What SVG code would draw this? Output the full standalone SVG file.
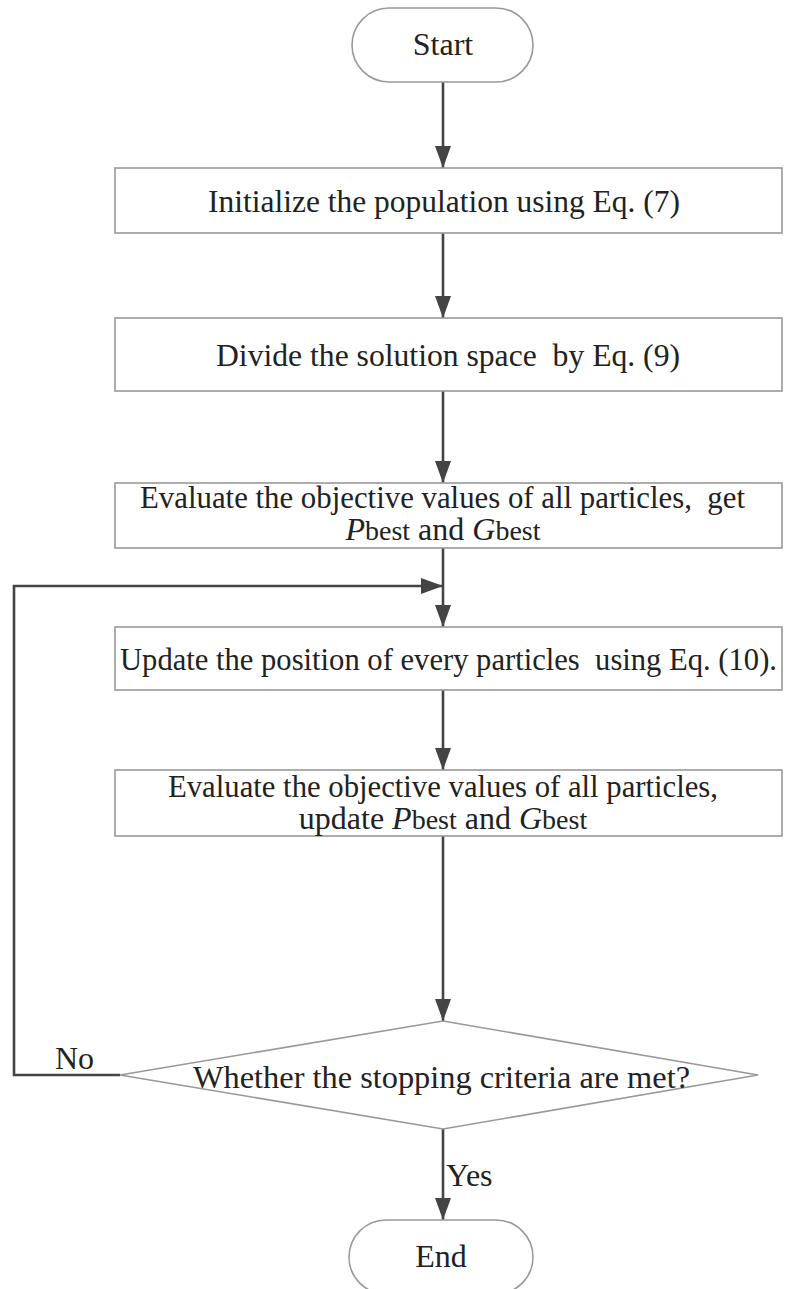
<svg xmlns="http://www.w3.org/2000/svg" width="787" height="1289" viewBox="0 0 787 1289">
<style>
.t{font-family:"Liberation Serif","Times New Roman",serif;font-size:32px;fill:#222;}
.i{font-style:italic;}
.s{font-size:28px;}
.box{fill:#fff;stroke:#999;stroke-width:1.6;}
.edge{fill:none;stroke:#444;stroke-width:2.6;}
</style>
<defs>
<marker id="ah" markerWidth="22" markerHeight="16" refX="22" refY="8" orient="auto" markerUnits="userSpaceOnUse" viewBox="0 0 22 16">
<path d="M0,0 L22,8 L0,16 Z" fill="#444"/>
</marker>
</defs>
<g id="connectors">
<line class="edge" x1="443" y1="82" x2="443" y2="168" marker-end="url(#ah)"/>
<line class="edge" x1="443" y1="233" x2="443" y2="318" marker-end="url(#ah)"/>
<line class="edge" x1="443" y1="391" x2="443" y2="483" marker-end="url(#ah)"/>
<line class="edge" x1="443" y1="548" x2="443" y2="627" marker-end="url(#ah)"/>
<line class="edge" x1="443" y1="690" x2="443" y2="770" marker-end="url(#ah)"/>
<line class="edge" x1="443" y1="836" x2="443" y2="1021" marker-end="url(#ah)"/>
<line class="edge" x1="443" y1="1129" x2="443" y2="1220" marker-end="url(#ah)"/>
<polyline class="edge" points="120,1075 14,1075 14,586 443,586" marker-end="url(#ah)"/>
<text class="t" x="55" y="1069">No</text>
<text class="t" x="446" y="1186">Yes</text>
</g>
<g id="start">
<rect class="box" x="352" y="8" width="181" height="74" rx="37"/>
<text class="t" x="443" y="55" text-anchor="middle">Start</text>
</g>
<g id="init">
<rect class="box" x="115" y="168" width="667" height="65"/>
<text class="t" x="208" y="212" textLength="472" lengthAdjust="spacingAndGlyphs">Initialize the population using Eq. (7)</text>
</g>
<g id="divide">
<rect class="box" x="115" y="318" width="667" height="73"/>
<text class="t" x="216" y="366" textLength="464" lengthAdjust="spacingAndGlyphs" xml:space="preserve">Divide the solution space  by Eq. (9)</text>
</g>
<g id="eval1">
<rect class="box" x="115" y="483" width="667" height="65"/>
<text class="t" x="140" y="508" textLength="605" lengthAdjust="spacingAndGlyphs" xml:space="preserve">Evaluate the objective values of all particles,  get</text>
<text class="t" x="443" y="540" text-anchor="middle"><tspan class="i">P</tspan><tspan class="s">best</tspan> and <tspan class="i">G</tspan><tspan class="s">best</tspan></text>
</g>
<g id="update">
<rect class="box" x="115" y="627" width="667" height="63"/>
<text class="t" x="120" y="670" textLength="657" lengthAdjust="spacingAndGlyphs" xml:space="preserve">Update the position of every particles  using Eq. (10).</text>
</g>
<g id="eval2">
<rect class="box" x="115" y="770" width="667" height="66"/>
<text class="t" x="168" y="797" textLength="550" lengthAdjust="spacingAndGlyphs">Evaluate the objective values of all particles,</text>
<text class="t" x="443" y="829" text-anchor="middle">update <tspan class="i">P</tspan><tspan class="s">best</tspan> and <tspan class="i">G</tspan><tspan class="s">best</tspan></text>
</g>
<g id="decision">
<polygon class="box" points="443,1021 758,1075 443,1129 120,1075"/>
<text class="t" x="193" y="1088" textLength="497" lengthAdjust="spacingAndGlyphs">Whether the stopping criteria are met?</text>
</g>
<g id="end">
<rect class="box" x="349" y="1220" width="184" height="74" rx="37"/>
<text class="t" x="441" y="1267" text-anchor="middle">End</text>
</g>
</svg>
